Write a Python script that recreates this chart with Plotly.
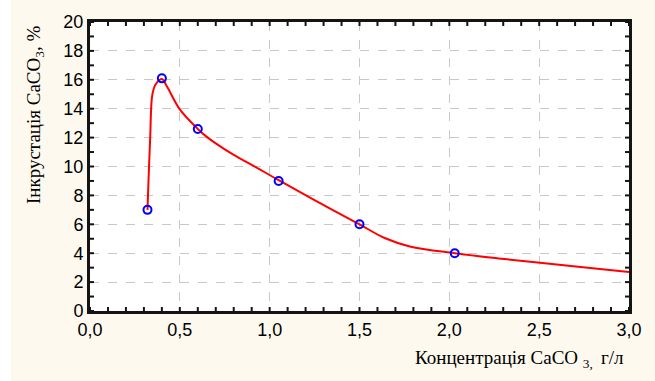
import plotly.graph_objects as go

# measured points
conc = [0.32, 0.40, 0.60, 1.05, 1.50, 2.03]
incr = [7.0, 16.1, 12.6, 9.0, 6.0, 4.0]

# fitted curve
curve_x = [0.32, 0.327, 0.335, 0.344, 0.355, 0.372, 0.40, 0.43, 0.50, 0.60, 0.65, 0.70, 0.80, 0.90, 1.05, 1.26, 1.50, 1.64, 1.78, 2.03, 2.29, 2.65, 3.0]
curve_y = [7.0, 9.5, 12.0, 14.7, 15.4, 15.8, 16.05, 15.5, 13.95, 12.6, 12.05, 11.6, 10.8, 10.12, 9.05, 7.6, 6.0, 5.05, 4.47, 4.0, 3.62, 3.15, 2.7]

x_ticks = [0.0, 0.5, 1.0, 1.5, 2.0, 2.5, 3.0]
y_ticks = [0, 2, 4, 6, 8, 10, 12, 14, 16, 18, 20]
x_minor = [round(i * 0.1, 1) for i in range(31)]
y_minor = list(range(21))

FRAME = "#141414"

fig = go.Figure()
fig.add_trace(go.Scatter(x=curve_x, y=curve_y, mode="lines",
                         line=dict(color="#ff0000", width=2, shape="spline", smoothing=1.0),
                         hoverinfo="skip", showlegend=False))
fig.add_trace(go.Scatter(x=conc, y=incr, mode="markers",
                         marker=dict(symbol="circle-open", size=8, color="#0000ff",
                                     line=dict(width=2, color="#0000ff")),
                         showlegend=False))

L, R, T, B = 90, 26, 16, 70
W, H = 655, 381
pw = W - L - R
ph = H - T - B

axis_common = dict(showline=True, linecolor=FRAME, linewidth=3, mirror=True,
                   ticks="", showgrid=True, gridcolor="#c8c8c8", griddash="dash", gridwidth=1,
                   zeroline=False,
                   tickfont=dict(family="Liberation Sans, Arial", size=18, color="black"))

shapes = [dict(type="rect", xref="paper", yref="paper",
               x0=-L / pw - 0.01, x1=(11 - L) / pw, y0=-1, y1=2,
               fillcolor="white", line=dict(width=0), layer="below")]
tick_line = dict(color=FRAME, width=2)
for xv in x_minor:
    for ya, p0, p1 in ((0, 0, 4), (1, -4, 0)):
        shapes.append(dict(type="line", xref="x", yref="paper", x0=xv, x1=xv,
                           ysizemode="pixel", yanchor=ya, y0=p0, y1=p1, line=tick_line))
for yv in y_minor:
    for xa, p0, p1 in ((0, 0, 4), (1, -4, 0)):
        shapes.append(dict(type="line", xref="paper", yref="y", y0=yv, y1=yv,
                           xsizemode="pixel", xanchor=xa, x0=p0, x1=p1, line=tick_line))

fig.update_layout(
    width=W, height=H,
    margin=dict(l=L, r=R, t=T, b=B),
    paper_bgcolor="#fdf9ee",
    plot_bgcolor="white",
    separators=", ",
    xaxis=dict(range=[0, 3], tickvals=x_ticks, tickformat=".1f", **axis_common),
    yaxis=dict(range=[0, 20], tickvals=y_ticks, **axis_common),
    shapes=shapes,
    annotations=[
        dict(text="Інкрустація CaCO<sub>3</sub>, %", textangle=-90,
             xref="paper", yref="paper", x=(35 - L) / pw, y=(H - B - 111) / ph,
             xanchor="center", yanchor="middle", showarrow=False,
             font=dict(family="Liberation Serif, Times New Roman", size=19, color="black")),
        dict(text="Концентрація CaCO <sub>3, </sub> г/л",
             xref="paper", yref="paper", x=(626 - L) / pw, y=-(360 - (H - B)) / ph,
             xanchor="right", yanchor="middle", showarrow=False,
             font=dict(family="Liberation Serif, Times New Roman", size=19, color="black")),
    ],
)

fig.write_html("out.html")
